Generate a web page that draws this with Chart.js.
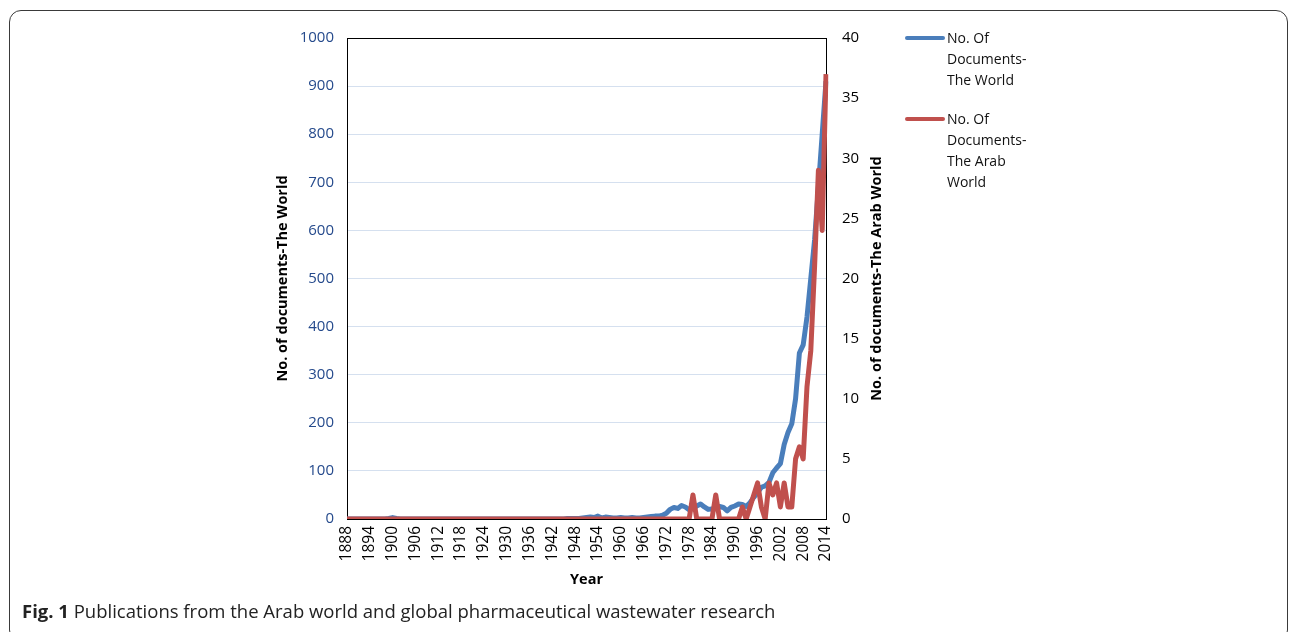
<!DOCTYPE html>
<html>
<head>
<meta charset="utf-8">
<title>Publications chart</title>
<script src="https://cdn.jsdelivr.net/npm/chart.js@4.4.0/dist/chart.umd.min.js"></script>
<style>
    body { margin: 0; background: #fff; font-family: 'Open Sans', sans-serif; }
    #wrap { position: relative; width: 1296px; height: 632px; overflow: hidden; }
    #myChart { position: absolute; left: 0; top: 0; }
    #card { position: absolute; left: 9px; top: 10px; width: 1277px; height: 630px; border: 1px solid #3a3a3a; border-radius: 12px; pointer-events: none; }
    #legend { position: absolute; left: 905px; top: 27px; font-size: 14px; line-height: 21px; color: #111; }
    .item { position: relative; padding-left: 42px; margin-bottom: 18px; }
    .swatch { position: absolute; left: 0; top: 9px; width: 40px; height: 4px; border-radius: 2px; }
    #caption { position: absolute; left: 22px; top: 598px; font-size: 18.5px; color: #222; white-space: nowrap; }
</style>
</head>
<body>
<div id="wrap">
    <canvas id="myChart" width="1296" height="632"></canvas>
    <div id="card"></div>
    <div id="legend"></div>
    <div id="caption"><b>Fig. 1</b> Publications from the Arab world and global pharmaceutical wastewater research</div>
</div>
<script>
// categories: one per year
const firstYear = 1888;
const lastYear = 2014;
const years = [];
for (let y = firstYear; y <= lastYear; y++) years.push(y);

// No. of documents - the world (left axis)
const worldDocs = [
    0, 0, 0, 0, 0, 0, 0, 0, 0, 0, 0, 1,          // 1888-1899
    3, 1, 0, 0, 0, 0, 0, 0, 0, 0,                // 1900s
    0, 0, 0, 0, 0, 0, 0, 0, 0, 0,                // 1910s
    0, 0, 0, 0, 0, 0, 0, 0, 0, 0,                // 1920s
    0, 0, 0, 0, 0, 0, 0, 0, 0, 0,                // 1930s
    0, 0, 0, 0, 0, 0, 1, 1, 1, 1,                // 1940s
    2, 3, 4, 3, 6, 2, 4, 3, 2, 2,                // 1950s
    3, 2, 2, 3, 2, 2, 3, 4, 5, 6,                // 1960s
    6, 8, 12, 20, 24, 22, 28, 25, 19, 22,        // 1970s
    27, 31, 25, 20, 21, 22, 26, 24, 17, 24,      // 1980s
    27, 31, 30, 26, 34, 45, 55, 66, 69, 76,      // 1990s
    96, 106, 115, 155, 180, 198, 250, 345, 362, 420, // 2000s
    500, 580, 690, 800, 910                      // 2010-2014
];

// No. of documents - the Arab world (right axis)
const arabDocs = [
    0, 0, 0, 0, 0, 0, 0, 0, 0, 0, 0, 0,          // 1888-1899
    0, 0, 0, 0, 0, 0, 0, 0, 0, 0,                // 1900s
    0, 0, 0, 0, 0, 0, 0, 0, 0, 0,                // 1910s
    0, 0, 0, 0, 0, 0, 0, 0, 0, 0,                // 1920s
    0, 0, 0, 0, 0, 0, 0, 0, 0, 0,                // 1930s
    0, 0, 0, 0, 0, 0, 0, 0, 0, 0,                // 1940s
    0, 0, 0, 0, 0, 0, 0, 0, 0, 0,                // 1950s
    0, 0, 0, 0, 0, 0, 0, 0, 0, 0,                // 1960s
    0, 0, 0, 0, 0, 0, 0, 0, 0, 2,                // 1970s
    0, 0, 0, 0, 0, 2, 0, 0, 0, 0,                // 1980s
    0, 0, 1, 0, 1, 2, 3, 1, 0, 3,                // 1990s
    2, 3, 1, 3, 1, 1, 5, 6, 5, 11,               // 2000s
    14, 21, 29, 24, 37                           // 2010-2014
];

const leftMax = 1000, leftStep = 100;
const rightMax = 40, rightStep = 5;

const worldColor = '#4A7EBB';
const arabColor = '#C0504D';
const legendLines = [
    ['No. Of', 'Documents-', 'The World'],
    ['No. Of', 'Documents-', 'The Arab', 'World']
];

document.addEventListener('DOMContentLoaded', () => {
    const font = "'Open Sans', sans-serif";

    // black box round the plot area
    const framePlugin = {
        id: 'frame',
        beforeDatasetsDraw(chart) {
            const { ctx, chartArea: a } = chart;
            ctx.save();
            ctx.strokeStyle = '#000';
            ctx.lineWidth = 1;
            ctx.strokeRect(Math.round(a.left) + 0.5, Math.round(a.top) + 0.5, Math.round(a.width), Math.round(a.height));
            ctx.restore();
        }
    };

    // right axis title reads bottom to top, like the left one
    const rightTitlePlugin = {
        id: 'rightTitle',
        afterDraw(chart) {
            const { ctx, chartArea: a } = chart;
            ctx.save();
            ctx.translate(877, (a.top + a.bottom) / 2);
            ctx.rotate(-Math.PI / 2);
            ctx.font = 'bold 14.5px ' + font;
            ctx.fillStyle = '#000';
            ctx.textAlign = 'center';
            ctx.textBaseline = 'middle';
            ctx.fillText('No. of documents-The Arab World', 0, 0);
            ctx.restore();
        }
    };

    const ctx = document.getElementById('myChart').getContext('2d');
    const myChart = new Chart(ctx, {
        type: 'line',
        data: {
            labels: years,
            datasets: [{
                label: 'No. Of Documents-The World',
                data: worldDocs,
                yAxisID: 'y',
                borderColor: worldColor,
                backgroundColor: worldColor,
                borderWidth: 5,
                pointRadius: 0,
                tension: 0,
                borderJoinStyle: 'round',
                order: 1
            }, {
                label: 'No. Of Documents-The Arab World',
                data: arabDocs,
                yAxisID: 'y1',
                borderColor: arabColor,
                backgroundColor: arabColor,
                borderWidth: 5,
                pointRadius: 0,
                tension: 0,
                borderJoinStyle: 'round',
                order: 0
            }]
        },
        options: {
            responsive: false,
            animation: false,
            layout: { padding: { left: 270, right: 410, top: 38, bottom: 42 } },
            plugins: { legend: { display: false }, tooltip: { enabled: false } },
            scales: {
                x: {
                    type: 'category',
                    offset: false,
                    grid: { display: false, drawTicks: false },
                    border: { display: false },
                    ticks: {
                        autoSkip: false,
                        minRotation: 90,
                        maxRotation: 90,
                        padding: 7,
                        color: '#000',
                        font: { family: font, size: 15.5 },
                        callback: (val, i) => ((years[i] - firstYear) % 6 === 0 ? String(years[i]) : '')
                    },
                    title: { display: true, text: 'Year', color: '#000', padding: { top: 0, bottom: 1 }, font: { family: font, size: 14.5, weight: 'bold' } },
                    afterFit: (s) => { s.height = 71; }
                },
                y: {
                    position: 'left',
                    min: 0,
                    max: leftMax,
                    ticks: { stepSize: leftStep, padding: 13, color: '#254A8C', font: { family: font, size: 15 }, callback: (v) => String(v) },
                    grid: { color: '#D5E0EF', lineWidth: 1, drawTicks: false },
                    border: { display: false },
                    title: { display: true, text: 'No. of documents-The World', color: '#000', padding: { top: 4, bottom: 0 }, font: { family: font, size: 14.5, weight: 'bold' } },
                    afterFit: (s) => { s.width = 77; }
                },
                y1: {
                    position: 'right',
                    min: 0,
                    max: rightMax,
                    ticks: { stepSize: rightStep, padding: 16, color: '#000', font: { family: font, size: 15 }, callback: (v) => String(v) },
                    grid: { display: false, drawTicks: false },
                    border: { display: false },
                    afterFit: (s) => { s.width = 60; }
                }
            }
        },
        plugins: [framePlugin, rightTitlePlugin]
    });

    // legend on the right, built from the datasets
    const legend = document.getElementById('legend');
    myChart.data.datasets.forEach((ds, i) => {
        const item = document.createElement('div');
        item.className = 'item';
        item.innerHTML = '<span class="swatch" style="background:' + ds.borderColor + '"></span>' + legendLines[i].join('<br>');
        legend.appendChild(item);
    });
});
</script>
</body>
</html>
